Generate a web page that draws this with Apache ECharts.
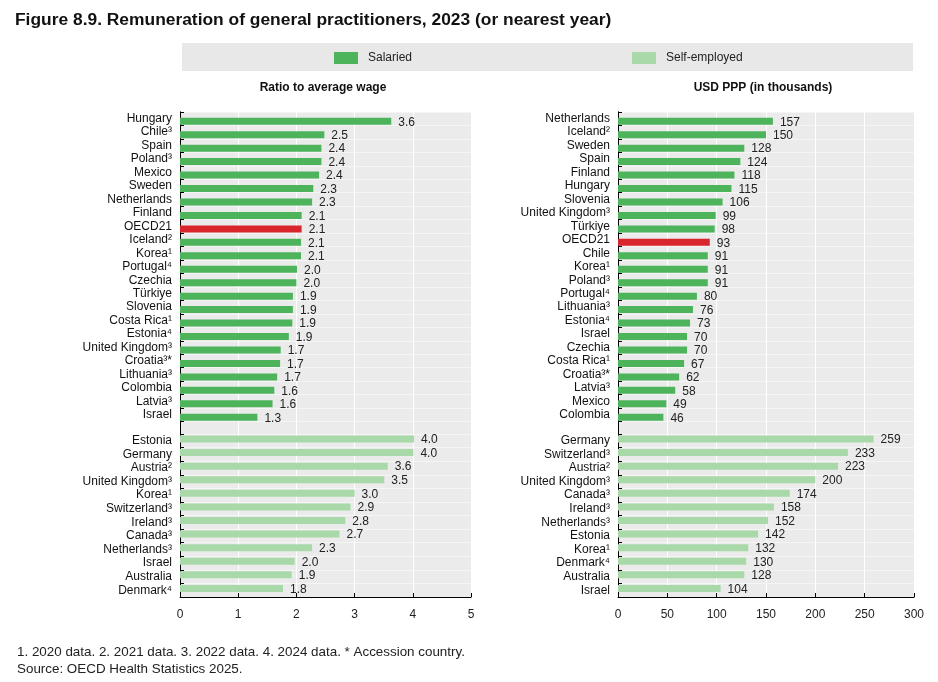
<!DOCTYPE html>
<html>
<head>
<meta charset="utf-8">
<script src="https://cdn.jsdelivr.net/npm/echarts@6/dist/echarts.min.js"></script>
<style>
html,body{margin:0;padding:0;background:#fff;}
#c{width:938px;height:682px;}
</style>
</head>
<body>
<div id="c"></div>
<script>
// ---- Data ----
const ratioSalariedCats = ['Hungary','Chile³','Spain','Poland³','Mexico','Sweden','Netherlands','Finland','OECD21','Iceland²','Korea¹','Portugal⁴','Czechia','Türkiye','Slovenia','Costa Rica¹','Estonia⁴','United Kingdom³','Croatia³*','Lithuania³','Colombia','Latvia³','Israel'];
const ratioSalariedVals = [3.63,2.48,2.43,2.43,2.39,2.29,2.27,2.09,2.09,2.08,2.08,2.01,2.0,1.94,1.94,1.93,1.87,1.73,1.72,1.67,1.62,1.59,1.33];
const ratioSelfCats = ['Estonia','Germany','Austria²','United Kingdom³','Korea¹','Switzerland³','Ireland³','Canada³','Netherlands³','Israel','Australia','Denmark⁴'];
const ratioSelfVals = [4.02,4.01,3.57,3.51,3.0,2.93,2.84,2.74,2.27,1.97,1.92,1.77];
const usdSalariedCats = ['Netherlands','Iceland²','Sweden','Spain','Finland','Hungary','Slovenia','United Kingdom³','Türkiye','OECD21','Chile','Korea¹','Poland³','Portugal⁴','Lithuania³','Estonia⁴','Israel','Czechia','Costa Rica¹','Croatia³*','Latvia³','Mexico','Colombia'];
const usdSalariedVals = [157,150,128,124,118,115,106,99,98,93,91,91,91,80,76,73,70,70,67,62,58,49,46];
const usdSelfCats = ['Germany','Switzerland³','Austria²','United Kingdom³','Canada³','Ireland³','Netherlands³','Estonia','Korea¹','Denmark⁴','Australia','Israel'];
const usdSelfVals = [259,233,223,200,174,158,152,142,132,130,128,104];
const ratioTicks = {min:0,max:5,interval:1};
const usdTicks = {min:0,max:300,interval:50};

const C_SAL = '#4db45c';
const C_SELF = '#a9d9a8';
const C_OECD = '#d8262c';
const FONT = '"Liberation Sans", Arial, sans-serif';

function mkData(cats, vals, color){
  return vals.map((v,i)=>({value:v, itemStyle:{color: cats[i]==='OECD21' ? C_OECD : color}}));
}

const panels = [
  {left:180, width:291, ticks:ratioTicks, fmt:v=>v.toFixed(1)},
  {left:618, width:296, ticks:usdTicks, fmt:v=>String(Math.round(v))}
];
const TOP = 112, BOTTOM_ALL = 597;
const BLOCKS = [{top:112, height:309.5, shift:2.5}, {top:434, height:163, shift:-1.8}];
const grids=[], xAxes=[], yAxes=[], series=[];

panels.forEach((p,pi)=>{
  const base = grids.length;
  grids.push({left:p.left, width:p.width, top:TOP, height:BOTTOM_ALL-TOP, show:true, backgroundColor:'#ebebeb', borderWidth:0, containLabel:false});
  xAxes.push({gridIndex:base, type:'value', min:p.ticks.min, max:p.ticks.max, interval:p.ticks.interval,
    axisLine:{show:true, lineStyle:{color:'#000', width:1}},
    axisTick:{show:true, inside:true, length:4, lineStyle:{color:'#000'}},
    axisLabel:{color:'#222', fontSize:12, fontFamily:FONT, margin:12},
    splitLine:{show:true, lineStyle:{color:'#ffffff', width:1}}});
  yAxes.push({gridIndex:base, type:'category', data:[''],
    axisLine:{show:true, lineStyle:{color:'#000'}}, axisTick:{show:false}, axisLabel:{show:false}, splitLine:{show:false}});
  const cats = pi===0 ? [ratioSalariedCats, ratioSelfCats] : [usdSalariedCats, usdSelfCats];
  const vals = pi===0 ? [ratioSalariedVals, ratioSelfVals] : [usdSalariedVals, usdSelfVals];
  [0,1].forEach(k=>{
    const b = BLOCKS[k];
    grids.push({left:p.left, width:p.width, top:b.top, height:b.height, containLabel:false});
    let gi = grids.length-1;
    xAxes.push({gridIndex:gi, type:'value', min:p.ticks.min, max:p.ticks.max, interval:p.ticks.interval, show:false});
    yAxes.push({gridIndex:gi, type:'category', data:cats[k], inverse:true,
      axisLine:{show:true, lineStyle:{color:'#000'}},
      axisTick:{show:true, inside:true, length:4, interval:0, lineStyle:{color:'#000'}},
      axisLabel:{color:'#111', fontSize:12, fontFamily:FONT, margin:8, interval:0},
      splitLine:{show:true, interval:0, lineStyle:{color:'#f5f5f5', width:1}}});
    grids.push({left:p.left, width:p.width, top:b.top+b.shift, height:b.height, containLabel:false});
    gi = grids.length-1;
    xAxes.push({gridIndex:gi, type:'value', min:p.ticks.min, max:p.ticks.max, interval:p.ticks.interval, show:false});
    yAxes.push({gridIndex:gi, type:'category', data:cats[k], inverse:true, show:false});
    series.push({type:'bar', name: k===0?'Salaried':'Self-employed', xAxisIndex:xAxes.length-1, yAxisIndex:yAxes.length-1,
      data: mkData(cats[k], vals[k], k===0?C_SAL:C_SELF), barWidth:7,
      itemStyle:{color:k===0?C_SAL:C_SELF},
      label:{show:true, position:'right', distance:7, offset:[0,1], color:'#222', fontSize:12, fontFamily:FONT,
        formatter:(pr)=>p.fmt(pr.value)},
      emphasis:{disabled:true}, animation:false, z:3});
  });
});

const chart = echarts.init(document.getElementById('c'), null, {renderer:'canvas'});
chart.setOption({
  animation:false,
  backgroundColor:'#fff',
  title:[{text:'Figure 8.9. Remuneration of general practitioners, 2023 (or nearest year)', left:10, top:7,
    textStyle:{fontFamily:FONT, fontWeight:'bold', fontSize:17.4, color:'#111'}}],
  legend:[
    {data:['Salaried'], left:334, top:52, padding:0, itemWidth:24, itemHeight:12, icon:'rect', selectedMode:false,
      textStyle:{fontFamily:FONT, fontSize:12, color:'#222', padding:[0,0,0,5]}},
    {data:['Self-employed'], left:632, top:52, padding:0, itemWidth:24, itemHeight:12, icon:'rect', selectedMode:false,
      textStyle:{fontFamily:FONT, fontSize:12, color:'#222', padding:[0,0,0,5]}}
  ],
  graphic:[
    {type:'rect', left:182, top:43, shape:{width:731, height:28}, style:{fill:'#e8e8e8'}, z:-1, silent:true},
    {type:'text', x:323, y:88, style:{text:'Ratio to average wage', textAlign:'center', textVerticalAlign:'middle', fontFamily:FONT, fontWeight:'bold', fontSize:12, fill:'#111'}},
    {type:'text', x:763, y:88, style:{text:'USD PPP (in thousands)', textAlign:'center', textVerticalAlign:'middle', fontFamily:FONT, fontWeight:'bold', fontSize:12, fill:'#111'}},
    {type:'text', x:17, y:652, style:{text:'1. 2020 data. 2. 2021 data. 3. 2022 data. 4. 2024 data. * Accession country.', textVerticalAlign:'middle', fontFamily:FONT, fontSize:13.4, fill:'#222'}},
    {type:'text', x:17, y:669, style:{text:'Source: OECD Health Statistics 2025.', textVerticalAlign:'middle', fontFamily:FONT, fontSize:13.4, fill:'#222'}}
  ],
  grid:grids, xAxis:xAxes, yAxis:yAxes, series:series
});
</script>
</body>
</html>
